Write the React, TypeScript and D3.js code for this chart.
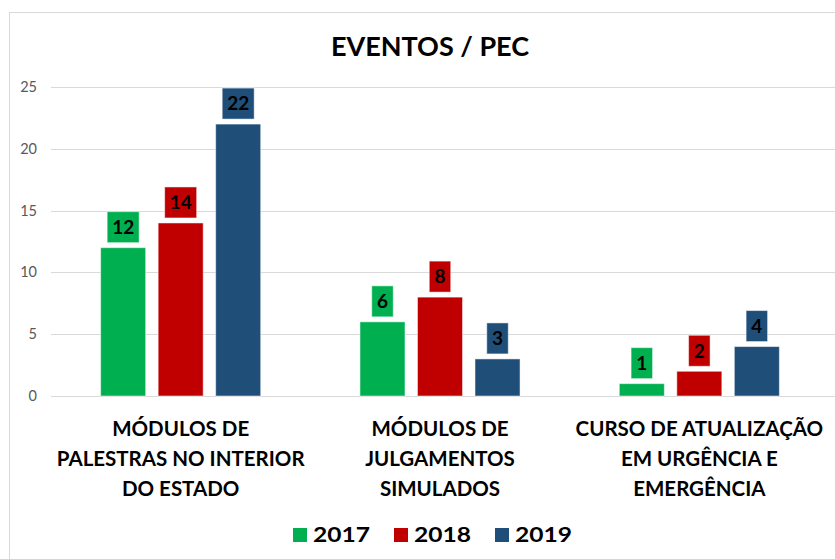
import * as d3 from "d3";

const categoryLines = [
  ["MÓDULOS DE", "PALESTRAS NO INTERIOR", "DO ESTADO"],
  ["MÓDULOS DE", "JULGAMENTOS", "SIMULADOS"],
  ["CURSO DE ATUALIZAÇÃO", "EM URGÊNCIA E", "EMERGÊNCIA"],
];
const years = ["2017", "2018", "2019"];
const values2017 = [12, 6, 1];
const values2018 = [14, 8, 2];
const values2019 = [22, 3, 4];
const yearColors = ["#00B050", "#C00000", "#1F4E79"];
const yTicks = [0, 5, 10, 15, 20, 25];

const W = 835;
const H = 559;
const FONT = "Lato, 'Open Sans', 'DejaVu Sans', sans-serif";

const series = [values2017, values2018, values2019];
const keys = categoryLines.map((_, i) => `c${i}`);

export default function App() {
  const x0 = d3.scaleBand<string>().domain(keys).range([51, 829]);
  const x1 = d3
    .scaleBand<string>()
    .domain(years)
    .range([0, x0.bandwidth()])
    .paddingInner(0.217)
    .paddingOuter(0.863);
  const y = d3.scaleLinear().domain([0, 25]).range([396, 87]);

  const bars = keys.flatMap((k, ci) =>
    years.map((yr, si) => ({ k, yr, si, v: series[si][ci] })),
  );

  const legendStep = 101;
  const legendStart = 432.5 - (legendStep * 3 - 24) / 2;

  return (
    <div style={{ position: "absolute", left: 0, top: 0 }}>
      <svg width={W} height={H} style={{ display: "block", background: "#fff" }} fontFamily={FONT}>
        <rect x={9.5} y={12.5} width={W + 20} height={H + 20} fill="#fff" stroke="#D9D9D9" />

        <text x={430} y={56} textAnchor="middle" fontSize={27} fontWeight={700} fill="#000">
          EVENTOS / PEC
        </text>

        {yTicks.map((t) => (
          <g key={t}>
            <line x1={51} x2={W} y1={Math.round(y(t)) + 0.5} y2={Math.round(y(t)) + 0.5} stroke="#D9D9D9" strokeWidth={1.2} />
            <text x={37} y={y(t)} dy="0.35em" textAnchor="end" fontSize={14.5} fill="#595959">
              {t}
            </text>
          </g>
        ))}

        {bars.map((b) => {
          const bx = (x0(b.k) as number) + (x1(b.yr) as number);
          const bw = x1.bandwidth();
          const top = y(b.v);
          const label = String(b.v);
          const boxW = label.length * 10.5 + 11;
          const boxH = 31;
          const cx = bx + bw / 2;
          return (
            <g key={b.k + b.yr}>
              <rect x={bx} y={top} width={bw} height={y(0) - top} fill={yearColors[b.si]} stroke="#fff" strokeOpacity={0.5} strokeWidth={1} />
              <rect
                x={cx - boxW / 2}
                y={top - 5 - boxH}
                width={boxW}
                height={boxH}
                fill={yearColors[b.si]}
                stroke="#fff"
                strokeOpacity={0.5}
                strokeWidth={1}
              />
              <text x={cx} y={top - 5 - boxH / 2} dy="0.36em" textAnchor="middle" fontSize={19} fontWeight={700} fill="#000">
                {label}
              </text>
            </g>
          );
        })}

        {keys.map((k, ci) => {
          const cx = (x0(k) as number) + x0.bandwidth() / 2;
          return (
            <text key={k} textAnchor="middle" fontSize={20.5} fontWeight={700} fill="#000">
              {categoryLines[ci].map((line, li) => (
                <tspan key={li} x={cx} y={436 + li * 30}>
                  {line}
                </tspan>
              ))}
            </text>
          );
        })}

        {years.map((yr, i) => {
          const lx = legendStart + i * legendStep;
          return (
            <g key={yr}>
              <rect x={lx} y={528} width={14} height={14} fill={yearColors[i]} />
              <text
                transform={`translate(${lx + 20},542) scale(1.17,1)`}
                fontSize={21}
                fontWeight={700}
                fill="#000"
              >
                {yr}
              </text>
            </g>
          );
        })}
      </svg>
    </div>
  );
}
